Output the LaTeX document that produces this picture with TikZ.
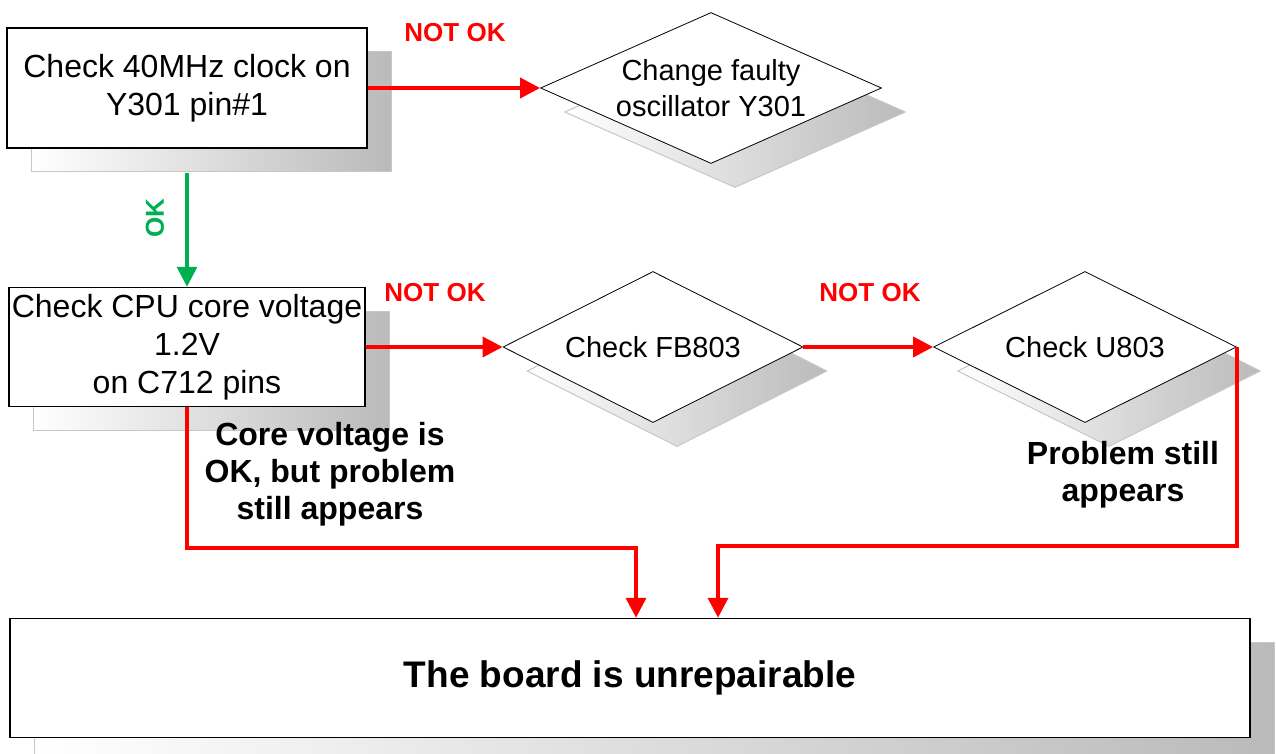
\documentclass[tikz,border=0pt]{standalone}
\usepackage{fontspec}
\setmainfont{Liberation Sans}
\usepackage{xcolor}
\usetikzlibrary{
    positioning,
    arrows.meta,
    shapes.geometric,
    shadows
}
\definecolor{okgreen}{HTML}{00B050}

\begin{document}
\begin{tikzpicture}[x=1pt, y=-1pt,
        boxshadow/.style={general shadow={shadow xshift=24pt, shadow yshift=-24pt, draw=black!22, line width=1pt, left color=white, right color=black!27}},
        chkbox/.style={rectangle, draw, line width=1.5pt, fill=white, boxshadow, align=center, inner sep=0pt, font=\fontsize{32}{38}\selectfont},
        chkdia/.style={diamond, draw, line width=0.8pt, fill=white, boxshadow, align=center, inner sep=0pt, aspect=2.25, minimum height=151pt, font=\fontsize{29}{36}\selectfont},
        bad/.style={red, line width=3.8pt, -{Triangle[length=20pt,width=20pt]}},
        good/.style={okgreen, line width=3.5pt, -{Triangle[length=20pt,width=20pt]}},
        note/.style={font=\bfseries\fontsize{26}{30}\selectfont},
        remark/.style={align=center, font=\bfseries\fontsize{32}{37}\selectfont}
    ]
        \useasboundingbox (0,0) rectangle (1276,754);
        % 点検の手順
        \node[chkbox, minimum width=360pt, minimum height=120pt] (clk) at (187,88) {Check 40MHz clock on\\Y301 pin\#1};
        \node[chkdia, minimum width=341pt] (osc) at (711,88) {Change faulty\\oscillator Y301};
        \node[chkbox, minimum width=356pt, minimum height=119pt] (cpu) at (187,347) {Check CPU core voltage\\1.2V\\on C712 pins};
        \node[chkdia, minimum width=300pt] (fb) at (653,347) {Check FB803};
        \node[chkdia, minimum width=303pt] (u803) at (1085,347) {Check U803};
        \node[chkbox, minimum width=1240pt, minimum height=119pt, font=\bfseries\fontsize{37}{42}\selectfont] (dead) at (630,678) {The board is unrepairable};

        \node[note, red] (n1) at (455,33) {NOT OK};
        \node[note, red] (n2) at (435,293) {NOT OK};
        \node[note, red] (n3) at (870,293) {NOT OK};
        \node[note, okgreen, rotate=90] (ok) at (155,218) {OK};
        \node[remark] (r1) at (330,474) {Core voltage is\\OK, but problem\\still appears};
        \node[remark] (r2) at (1123,475) {Problem still\\appears};

        \draw[bad] (clk.east) -- (osc.west);
        \draw[good] ([yshift=-24pt]clk.south) -- (cpu.north);
        \draw[bad] (cpu.east) -- (fb.west);
        \draw[bad] (fb.east) -- (u803.west);
        \draw[bad] (cpu.south) -- ++(0,141) -| ([xshift=6pt]dead.north);
        \draw[bad] (u803.east) -- ++(0,199) -| ([xshift=88pt]dead.north);
    \end{tikzpicture}
\end{document}
